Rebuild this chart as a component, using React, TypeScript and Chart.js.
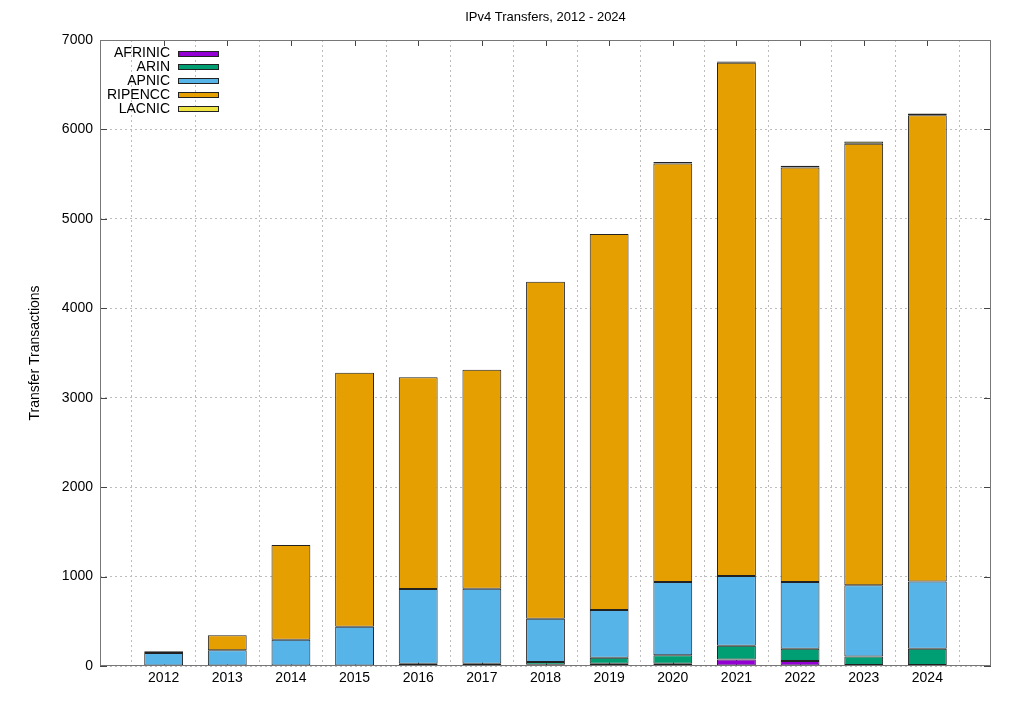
import React, { useEffect, useRef } from 'react';
import { Chart, registerables } from 'chart.js';

Chart.register(...registerables);

const years = ['2012', '2013', '2014', '2015', '2016', '2017', '2018', '2019', '2020', '2021', '2022', '2023', '2024'];
const afrinic = [0, 0, 0, 0, 0, 0, 15, 25, 25, 72, 56, 12, 12];
const arin = [0, 0, 0, 0, 25, 25, 30, 68, 94, 155, 137, 95, 181];
const apnic = [145, 176, 294, 440, 835, 840, 483, 532, 819, 780, 745, 796, 752];
const ripencc = [20, 167, 1059, 2839, 2370, 2447, 3769, 4207, 4682, 5738, 4635, 4938, 5214];
const lacnic = [0, 0, 0, 0, 0, 0, 0, 0, 15, 15, 20, 25, 20];
const yTicks = [0, 1000, 2000, 3000, 4000, 5000, 6000, 7000];

const FONT = '"Liberation Sans", Arial, Helvetica, sans-serif';

const pad = (arr: number[]) => [null, ...arr.map((v) => (v === 0 ? null : v)), null];

const overlay = {
  id: 'gnuplotOverlay',
  beforeDatasetsDraw(chart: any) {
    const ctx = chart.ctx;
    const { left, right, top, bottom } = chart.chartArea;
    ctx.save();
    ctx.strokeStyle = '#444';
    ctx.lineWidth = 1;
    ctx.setLineDash([]);
    const xs = chart.scales.x;
    const ys = chart.scales.y;
    ctx.beginPath();
    for (let i = 1; i <= years.length; i++) {
      const x = Math.round(xs.getPixelForTick(i)) + 0.5;
      ctx.moveTo(x, bottom);
      ctx.lineTo(x, bottom - 6);
      ctx.moveTo(x, top);
      ctx.lineTo(x, top + 6);
    }
    for (const v of yTicks) {
      const y = Math.round(ys.getPixelForValue(v)) + 0.5;
      ctx.moveTo(left, y);
      ctx.lineTo(left + 7, y);
      ctx.moveTo(right, y);
      ctx.lineTo(right - 7, y);
    }
    ctx.stroke();
    ctx.restore();
  },
  afterDraw(chart: any) {
    const ctx = chart.ctx;
    const { left, right, top, bottom } = chart.chartArea;
    ctx.save();
    ctx.strokeStyle = '#777';
    ctx.lineWidth = 1;
    ctx.setLineDash([]);
    ctx.strokeRect(left + 0.5, top + 0.5, right - left - 1, bottom - top - 1);
    ctx.fillStyle = '#000';
    ctx.font = `13px ${FONT}`;
    ctx.textAlign = 'center';
    ctx.textBaseline = 'middle';
    ctx.fillText('IPv4 Transfers, 2012 - 2024', (left + right) / 2, 17);
    ctx.font = `14px ${FONT}`;
    ctx.textAlign = 'right';
    chart.data.datasets.forEach((ds: any, i: number) => {
      const cy = 53.5 + 13.8 * i;
      ctx.fillStyle = '#000';
      ctx.fillText(ds.label, 170, cy);
      ctx.fillStyle = ds.backgroundColor;
      ctx.fillRect(178, Math.round(cy - 3), 41, 6);
      ctx.strokeStyle = '#222';
      ctx.strokeRect(178.5, Math.round(cy - 3) + 0.5, 40, 5);
    });
    ctx.restore();
  },
};

export default function App() {
  const ref = useRef<HTMLCanvasElement | null>(null);
  useEffect(() => {
    if (!ref.current) return;
    const labels = ['', ...years, ''];
    const mk = (label: string, data: number[], color: string) => ({
      label,
      data: pad(data),
      backgroundColor: color,
      borderColor: '#222',
      borderWidth: 1,
      borderSkipped: false,
      barPercentage: 0.61,
      categoryPercentage: 1,
    });
    const chart = new Chart(ref.current, {
      type: 'bar',
      data: {
        labels,
        datasets: [
          mk('AFRINIC', afrinic, '#9400d3'),
          mk('ARIN', arin, '#009e73'),
          mk('APNIC', apnic, '#56b4e9'),
          mk('RIPENCC', ripencc, '#e69f00'),
          mk('LACNIC', lacnic, '#f0e442'),
        ] as any,
      },
      options: {
        responsive: false,
        animation: false,
        layout: { padding: { left: 0, right: 33, top: 40, bottom: 0 } },
        plugins: {
          legend: { display: false },
          title: { display: false },
          tooltip: { enabled: false },
        },
        scales: {
          x: {
            stacked: true,
            offset: false,
            ticks: { autoSkip: false, maxRotation: 0, padding: 4, color: '#000', font: { family: FONT, size: 14 } },
            grid: { color: '#bdbdbd', drawTicks: false, lineWidth: 1 },
            border: { display: false, dash: [2, 3] },
            afterFit: (s: any) => {
              s.height = 42;
            },
          },
          y: {
            stacked: true,
            min: 0,
            max: 7000,
            ticks: {
              stepSize: 1000,
              padding: 7,
              color: '#000',
              font: { family: FONT, size: 14 },
              callback: (v: any) => String(v),
            },
            grid: { color: '#bdbdbd', drawTicks: false, lineWidth: 1 },
            border: { display: false, dash: [2, 3] },
            title: {
              display: true,
              text: 'Transfer Transactions',
              color: '#000',
              font: { family: FONT, size: 14 },
              padding: { top: 27, bottom: 0 },
            },
            afterFit: (s: any) => {
              s.width = 100;
            },
          },
        },
      } as any,
      plugins: [overlay],
    });
    return () => chart.destroy();
  }, []);
  return (
    <div style={{ position: 'absolute', left: 0, top: 0, width: 1024, height: 708, background: '#fff' }}>
      <canvas ref={ref} width={1024} height={708} style={{ display: 'block' }} />
    </div>
  );
}
